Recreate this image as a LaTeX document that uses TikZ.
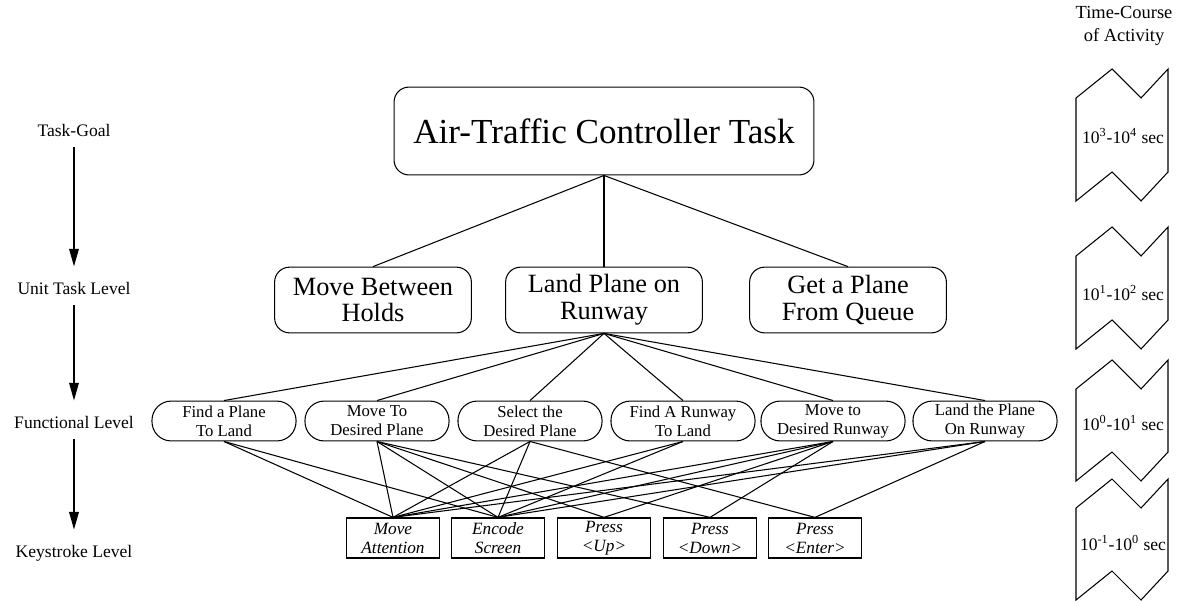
\documentclass[tikz,border=0pt]{standalone}
\usepackage{fontspec}
\setmainfont{Liberation Serif}
\usetikzlibrary{arrows.meta}

\tikzset{
  taskbox/.style={draw, rounded corners=8.5pt, minimum width=239pt, minimum height=50pt,
    font=\fontsize{20}{22}\selectfont},
  unitbox/.style={draw, rounded corners=8.5pt, minimum width=112pt, minimum height=37.4pt,
    align=center, font=\fontsize{15}{15.3}\selectfont},
  funcbox/.style={draw, rounded corners=11pt, minimum width=82pt, minimum height=22.7pt,
    inner sep=1pt, align=center, font=\fontsize{9.5}{10.8}\selectfont},
  keybox/.style={draw, line width=0.8pt, minimum width=52.7pt, minimum height=22.7pt,
    inner sep=1pt, align=center, font=\fontsize{9.8}{10.8}\selectfont\itshape},
  levellabel/.style={font=\fontsize{10}{12}\selectfont, inner sep=1pt},
  levelarrow/.style={-{Triangle[length=10pt,width=5.5pt]}, line width=0.7pt,
    shorten <=5pt, shorten >=7.5pt},
  bandlabel/.style={font=\fontsize{10}{12}\selectfont, inner sep=0pt}
}

\begin{document}
\begin{tikzpicture}[x=0.02cm, y=-0.02cm, line width=0.6pt]
  \useasboundingbox (0,0) rectangle (1185,600);

  % levels on the left
  \node[levellabel] (goal) at (74,130) {Task-Goal};
  \node[levellabel] (unitlevel) at (74,288) {Unit Task Level};
  \node[levellabel] (funclevel) at (74,422) {Functional Level};
  \node[levellabel] (keylevel) at (74,553) {Keystroke Level};
  \draw[levelarrow] (goal) -- (unitlevel);
  \draw[levelarrow] (unitlevel) -- (funclevel);
  \draw[levelarrow] (funclevel) -- (keylevel);

  % task and unit tasks
  \node[taskbox] (task) at (604,131) {Air-Traffic Controller Task};
  \node[unitbox] (unit1) at (373,300) {Move Between\\Holds};
  \node[unitbox] (unit2) at (604,300) {Land Plane on\\Runway};
  \node[unitbox] (unit3) at (848,300) {Get a Plane\\From Queue};
  \foreach \u in {1,2,3}
    \draw (task.south) -- (unit\u.north);

  % functional level
  \foreach \x/\txt [count=\i] in {224/{Find a Plane\\To Land}, 377/{Move To\\Desired Plane},
      530/{Select the\\Desired Plane}, 683/{Find A Runway\\To Land},
      833/{Move to\\Desired Runway}, 985/{Land the Plane\\On Runway}}
    \node[funcbox] (func\i) at (\x,421) {\txt};
  \foreach \i in {1,...,6}
    \draw (unit2.south) -- (func\i.north);

  % keystroke level
  \foreach \x/\txt [count=\i] in {393/{Move\\Attention}, 498/{Encode\\Screen},
      604/{Press\\<Up>}, 710/{Press\\<Down>}, 815/{Press\\<Enter>}}
    \node[keybox] (key\i) at (\x,538) {\txt};
  \foreach \f/\ks in {1/{1,2}, 2/{1,2,3,4}, 3/{1,2,5}, 4/{1,2}, 5/{1,2,3,4}, 6/{1,2,5}}
    \foreach \k in \ks
      \draw (func\f.south) -- (key\k.north);

  % time-course of activity
  \node[levellabel, align=center, font=\fontsize{10.5}{13}\selectfont] (timecourse) at (1124,26)
    {Time-Course\\of Activity};
  \foreach \t/\b in {69/172, 227/320, 360/452, 479/571}
    \draw (1076,\t+29) -- (1112,\t) -- (1141,\t+29) -- (1168,\t) -- (1168,\b)
      -- (1141,\b+29) -- (1112,\b) -- (1076,\b+29) -- cycle;
  \foreach \y/\lo/\hi [count=\i] in {136/3/4, 293/1/2, 423/0/1, 543/-1/0}
    \node[bandlabel] (band\i) at (1123,\y) {10\textsuperscript{\lo}-10\textsuperscript{\hi} sec};
\end{tikzpicture}
\end{document}
